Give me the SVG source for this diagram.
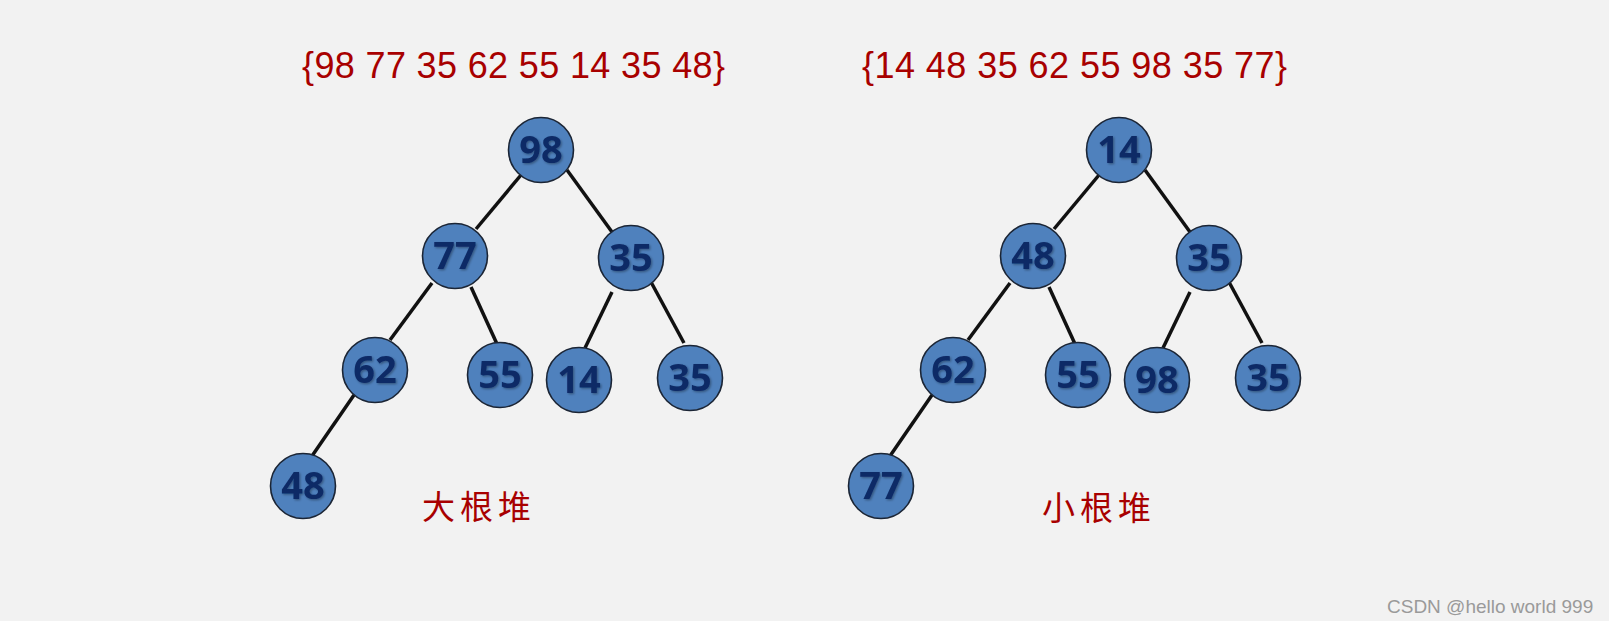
<svg xmlns="http://www.w3.org/2000/svg" width="1609" height="621" viewBox="0 0 1609 621">
<style>
.bg{fill:#f2f2f2}
.node circle{fill:#4f81bd;stroke:#1b2535;stroke-width:1.6}
.node text{font-family:"Open Sans","Liberation Sans",sans-serif;font-weight:bold;font-size:38px;fill:#0c2a66;text-anchor:middle;filter:url(#sh)}
.edges line{stroke:#111;stroke-width:3.5;stroke-linecap:butt}
.seq{font-family:"Liberation Sans","DejaVu Sans",sans-serif;font-size:36px;fill:#a80000}
.cap{font-family:"Noto Sans CJK SC",sans-serif;font-size:33px;fill:#a80000;letter-spacing:5px}
.wm{font-family:"Liberation Sans",sans-serif;font-size:19px;fill:#9a9a9a}
</style>
<defs>
<filter id="sh" x="-20%" y="-20%" width="140%" height="140%">
<feDropShadow dx="1.2" dy="1.2" stdDeviation="1" flood-color="#000" flood-opacity="0.35"/>
</filter>
</defs>
<rect class="bg" x="0" y="0" width="1609" height="621"/>

<text class="seq" x="302" y="78" textLength="423" lengthAdjust="spacing">{98 77 35 62 55 14 35 48}</text>
<text class="seq" x="862" y="78" textLength="425" lengthAdjust="spacing">{14 48 35 62 55 98 35 77}</text>

<g id="edges" class="edges">
<line x1="521" y1="175" x2="476" y2="229"/>
<line x1="567" y1="170" x2="612" y2="232"/>
<line x1="432" y1="283" x2="390" y2="340"/>
<line x1="471" y1="287" x2="497" y2="344"/>
<line x1="612" y1="292" x2="585" y2="348"/>
<line x1="651" y1="282" x2="684" y2="343"/>
<line x1="354" y1="395" x2="312" y2="456"/>

<line x1="1099" y1="175" x2="1054" y2="229"/>
<line x1="1145" y1="170" x2="1190" y2="232"/>
<line x1="1010" y1="283" x2="968" y2="340"/>
<line x1="1049" y1="287" x2="1075" y2="344"/>
<line x1="1190" y1="292" x2="1163" y2="348"/>
<line x1="1229" y1="282" x2="1262" y2="343"/>
<line x1="932" y1="395" x2="890" y2="456"/>
</g>

<g id="L98" class="node"><circle cx="541" cy="150" r="32.5"/><text x="541" y="163">98</text></g>
<g id="L77" class="node"><circle cx="455" cy="256" r="32.5"/><text x="455" y="269">77</text></g>
<g id="L35a" class="node"><circle cx="631" cy="258" r="32.5"/><text x="631" y="271">35</text></g>
<g id="L62" class="node"><circle cx="375" cy="370" r="32.5"/><text x="375" y="383">62</text></g>
<g id="L55" class="node"><circle cx="500" cy="375" r="32.5"/><text x="500" y="388">55</text></g>
<g id="L14" class="node"><circle cx="579" cy="380" r="32.5"/><text x="579" y="393">14</text></g>
<g id="L35b" class="node"><circle cx="690" cy="378" r="32.5"/><text x="690" y="391">35</text></g>
<g id="L48" class="node"><circle cx="303" cy="486" r="32.5"/><text x="303" y="499">48</text></g>

<g id="R14" class="node"><circle cx="1119" cy="150" r="32.5"/><text x="1119" y="163">14</text></g>
<g id="R48" class="node"><circle cx="1033" cy="256" r="32.5"/><text x="1033" y="269">48</text></g>
<g id="R35a" class="node"><circle cx="1209" cy="258" r="32.5"/><text x="1209" y="271">35</text></g>
<g id="R62" class="node"><circle cx="953" cy="370" r="32.5"/><text x="953" y="383">62</text></g>
<g id="R55" class="node"><circle cx="1078" cy="375" r="32.5"/><text x="1078" y="388">55</text></g>
<g id="R98" class="node"><circle cx="1157" cy="380" r="32.5"/><text x="1157" y="393">98</text></g>
<g id="R35b" class="node"><circle cx="1268" cy="378" r="32.5"/><text x="1268" y="391">35</text></g>
<g id="R77" class="node"><circle cx="881" cy="486" r="32.5"/><text x="881" y="499">77</text></g>

<text class="cap" x="422" y="519">大根堆</text>
<text class="cap" x="1042" y="520">小根堆</text>

<text class="wm" x="1387" y="613">CSDN @hello world 999</text>
</svg>
